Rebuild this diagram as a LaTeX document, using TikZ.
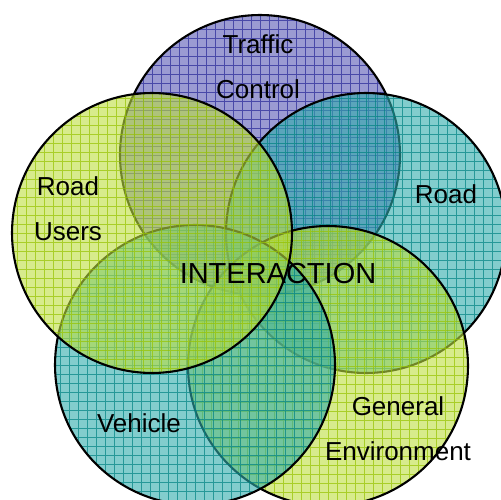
\documentclass[tikz,border=0pt]{standalone}
\usepackage{fontspec}
\setmainfont{Liberation Sans}
\definecolor{tcfill}{RGB}{88,88,180}
\definecolor{tcgrid}{RGB}{40,40,150}
\definecolor{tealfill}{RGB}{47,172,172}
\definecolor{tealgrid}{RGB}{0,130,130}
\definecolor{limefill}{RGB}{188,222,63}
\definecolor{limegrid}{RGB}{150,195,0}

\begin{document}
\begin{tikzpicture}[x=0.02cm, y=-0.02cm,
  set node/.style 2 args={circle, draw=black, line width=1.2pt, minimum size=5.6cm, inner sep=0pt,
    fill=#1, fill opacity=0.6,
    path picture={\draw[#2, line width=0.5pt, opacity=0.7] (path picture bounding box.south west) grid[step=0.18cm] (path picture bounding box.north east);}},
  label node/.style={font=\fontsize{14.8pt}{25.6pt}\selectfont, align=center, anchor=base, inner sep=0pt}]

    \useasboundingbox (0,0) rectangle (500,500);

    \node[set node={tcfill}{tcgrid}] at (260,155) (traffic) {};
    \node[set node={tealfill}{tealgrid}] at (366,233) (road) {};
    \node[set node={limefill}{limegrid}] at (328,366) (environment) {};
    \node[set node={tealfill}{tealgrid}] at (195,365) (vehicle) {};
    \node[set node={limefill}{limegrid}] at (152,233) (users) {};

    % base anchor sits on the last line
    \node[label node] at (258,98) (trafficlabel) {Traffic\\Control};
    \node[label node] at (68,240) (userslabel) {Road\\Users};
    \node[label node] at (446,203) (roadlabel) {Road};
    \node[label node] at (139,432) (vehiclelabel) {Vehicle};
    \node[label node] at (398,460) (environmentlabel) {General\\Environment};
    \node[label node, font=\fontsize{16.5pt}{20pt}\selectfont] at (278,283) (interaction) {INTERACTION};

\end{tikzpicture}
\end{document}
